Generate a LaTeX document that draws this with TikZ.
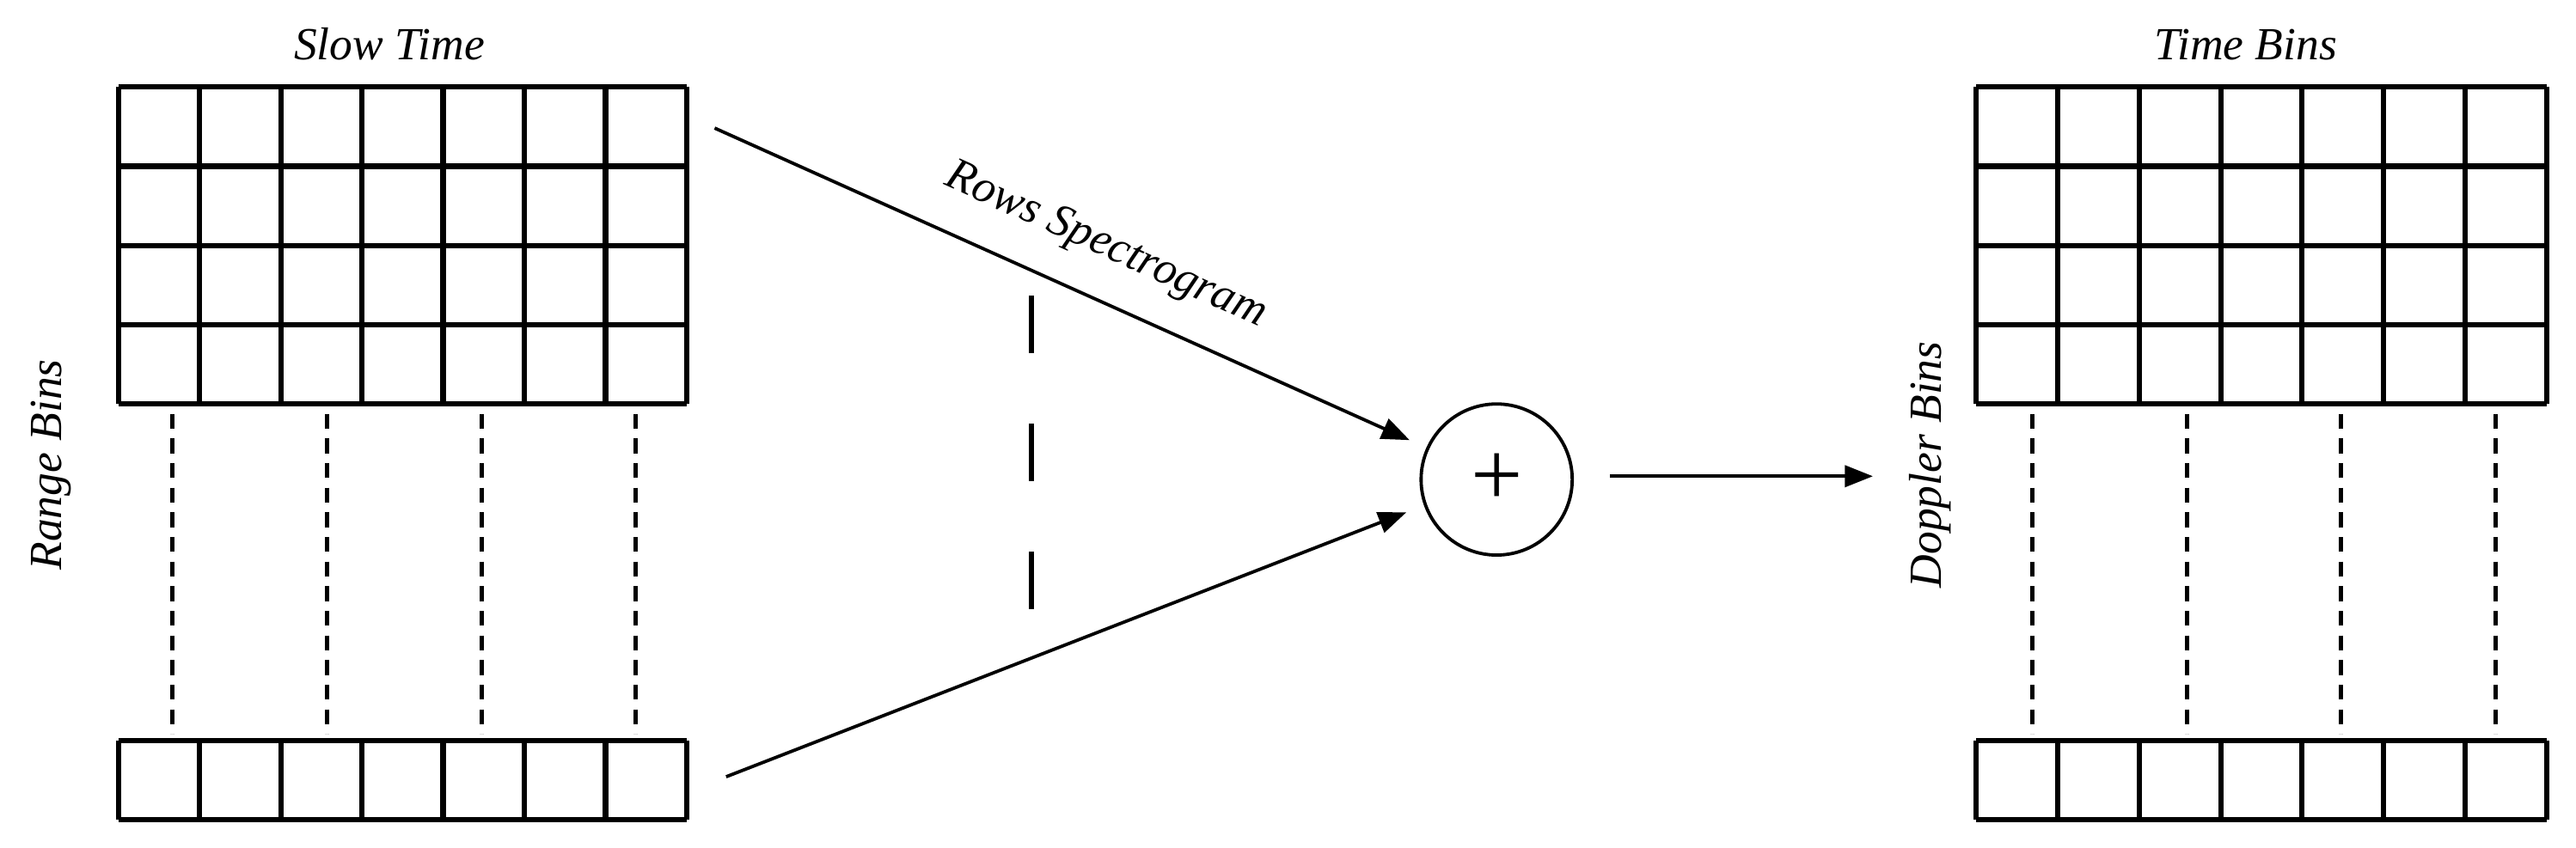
\documentclass[tikz,border=0pt]{standalone}
\usepackage{fontspec}
\setmainfont{Liberation Serif}
\usetikzlibrary{arrows.meta}
\begin{document}
\begin{tikzpicture}[x=1pt,y=-1pt,
  cell/.style={line width=3.2pt},
  dsh/.style={line width=2.6pt,dash pattern=on 9pt off 6pt},
  arr/.style={line width=2pt,-{Triangle[length=17pt,width=13pt]}},
  lbl/.style={font=\fontsize{28}{28}\selectfont\itshape}]
\useasboundingbox (0,0) rectangle (1568,516);
% left grid
\foreach \i in {0,...,7}{\draw[cell] ({72+\i*49.43},53) -- ({72+\i*49.43},246);}
\foreach \j in {0,...,4}{\draw[cell] (72,{53+\j*48.25}) -- (418,{53+\j*48.25});}
\foreach \i in {0,...,7}{\draw[cell] ({72+\i*49.43},451) -- ({72+\i*49.43},499);}
\draw[cell] (72,451) -- (418,451) (72,499) -- (418,499);
\foreach \x in {105,199,293,387}{\draw[dsh] (\x,252) -- (\x,447);}
% right grid
\foreach \i in {0,...,7}{\draw[cell] ({1203+\i*49.57},53) -- ({1203+\i*49.57},246);}
\foreach \j in {0,...,4}{\draw[cell] (1203,{53+\j*48.25}) -- (1550,{53+\j*48.25});}
\foreach \i in {0,...,7}{\draw[cell] ({1203+\i*49.57},451) -- ({1203+\i*49.57},499);}
\draw[cell] (1203,451) -- (1550,451) (1203,499) -- (1550,499);
\foreach \x in {1237,1331,1425,1519}{\draw[dsh] (\x,252) -- (\x,447);}
% middle dashed
\draw[line width=3pt,dash pattern=on 35pt off 43pt] (628,180) -- (628,372);
% sum node
\node[circle,draw,line width=2pt,minimum size=92pt,inner sep=0pt,font=\fontsize{56}{56}\selectfont] (sum) at (911,292) {+};
\coordinate (a1) at (435,78);
\coordinate (a2) at (442,473);
\coordinate (a3) at (980,290);
\coordinate (a4) at (1140,290);
\draw[arr] (a1) -- (858,268);
\draw[arr] (a2) -- (856,312);
\draw[arr] (a3) -- (a4);
% labels
\node[lbl] (st) at (237,27) {Slow Time};
\node[lbl] (tb) at (1367,27) {Time Bins};
\node[lbl,rotate=90] (rb) at (31,283) {Range Bins};
\node[lbl,rotate=90] (db) at (1175,283) {Doppler Bins};
\node[lbl,rotate=-24.2] (rs) at (673,150) {Rows Spectrogram};
\end{tikzpicture}
\end{document}
